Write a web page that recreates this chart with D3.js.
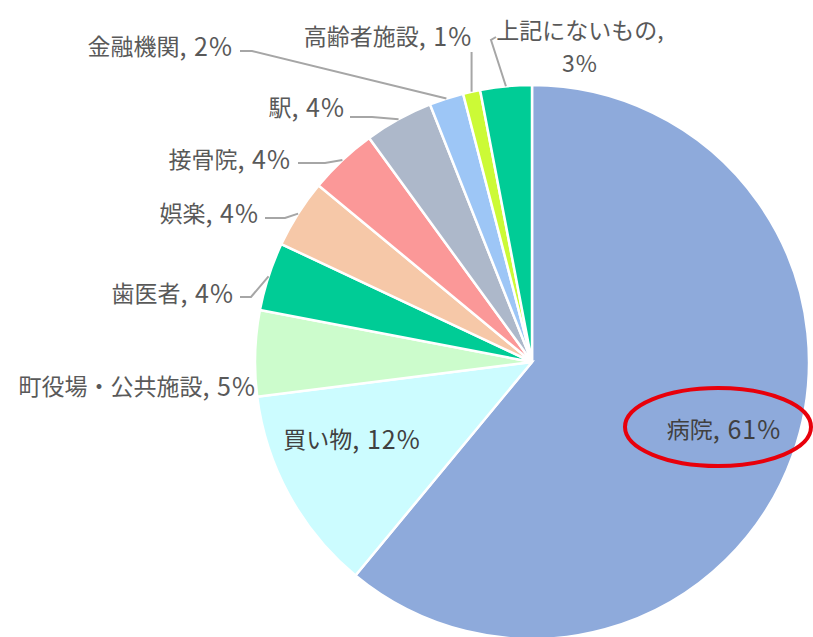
<!DOCTYPE html>
<html>
    <head>
        <meta charset="utf-8">
        <script src="https://d3js.org/d3.v7.min.js"></script>
        <title>pie</title>
        <style>
            body { margin: 0; background: #fff; }
            text { font-family: "Noto Sans CJK JP", "Noto Sans", sans-serif; }
        </style>
    </head>
    <body>
        <svg id="chart" width="813" height="637"></svg>
        <script>
            // data, clockwise from 12 o'clock
            const categories = ["病院", "買い物", "町役場・公共施設", "歯医者", "娯楽", "接骨院", "駅", "金融機関", "高齢者施設", "上記にないもの"];
            const values = [61, 12, 5, 4, 4, 4, 4, 2, 1, 3];
            const colors = ["#8eaadb", "#ccfcff", "#ccfccc", "#00cc96", "#f6c8a8", "#fb9898", "#adb8ca", "#9dc6f6", "#ccfa36", "#00cc96"];

            // where Excel had put each label (text anchor point) and its leader elbow
            const labelLayout = [
                {x: 724, y: 428, anchor: "middle", inside: true},
                {x: 352, y: 438, anchor: "middle", inside: true},
                {x: 256, y: 385, anchor: "end"},
                {x: 234, y: 292, anchor: "end", leader: [[251, 297], [240, 297]]},
                {x: 259, y: 212, anchor: "end", leader: [[285, 218], [265, 218]]},
                {x: 291, y: 158, anchor: "end", leader: [[325, 163], [298, 163]]},
                {x: 345, y: 106, anchor: "end", leader: [[372, 117], [350, 117]]},
                {x: 233, y: 45, anchor: "end", leader: [[252, 51], [240, 51]]},
                {x: 388, y: 35, anchor: "middle", leader: "up", top: 52},
                {x: 580, y: 29, anchor: "middle", leader: [[491, 40], [496, 37]], lines: 2, gap: 33}
            ];

            const svg = d3.select("#chart");
            const cx = 532, cy = 362, r = 277;
            const g = svg.append("g").attr("transform", `translate(${cx},${cy})`);

            const pie = d3.pie().sort(null).value(d => d.value);
            const arcs = pie(categories.map((c, i) => ({name: c, value: values[i], i: i})));
            const arc = d3.arc().innerRadius(0).outerRadius(r);
            const edge = d3.arc().innerRadius(r).outerRadius(r);

            g.selectAll("path.slice")
                .data(arcs)
                .join("path")
                .attr("class", "slice")
                .attr("d", arc)
                .attr("fill", d => colors[d.data.i])
                .attr("stroke", "#fff")
                .attr("stroke-width", 2.5);

            // leader lines
            const lineGen = d3.line();
            arcs.forEach(d => {
                const L = labelLayout[d.data.i];
                if (!L.leader) return;
                const p = edge.centroid(d);
                const start = [cx + p[0], cy + p[1]];
                let pts;
                if (L.leader === "up") {
                    pts = [start, [start[0], L.top]];
                } else {
                    pts = [start].concat(L.leader);
                }
                svg.append("path")
                    .attr("d", lineGen(pts))
                    .attr("fill", "none")
                    .attr("stroke", "#a6a6a6")
                    .attr("stroke-width", 2);
            });

            // labels: name in CJK, value part a bit bigger like Meiryo
            function addText(x, y, anchor, fill) {
                return svg.append("text")
                    .attr("x", x)
                    .attr("y", y)
                    .attr("text-anchor", anchor)
                    .attr("dominant-baseline", "central")
                    .attr("font-size", 23)
                    .attr("fill", fill);
            }
            arcs.forEach(d => {
                const L = labelLayout[d.data.i];
                const fill = L.inside ? "#404040" : "#595959";
                if (L.lines === 2) {
                    addText(L.x, L.y, L.anchor, fill).text(d.data.name + ",");
                    addText(L.x, L.y + L.gap, L.anchor, fill)
                        .attr("letter-spacing", 1).text(d.data.value + "%");
                } else {
                    const t = addText(L.x, L.y, L.anchor, fill);
                    t.append("tspan").text(d.data.name);
                    t.append("tspan").attr("font-size", 25).attr("letter-spacing", 1)
                        .text(`, ${d.data.value}%`);
                }
            });

            // red highlight around the hospital label
            svg.append("ellipse")
                .attr("cx", 718)
                .attr("cy", 427)
                .attr("rx", 93)
                .attr("ry", 39)
                .attr("fill", "none")
                .attr("stroke", "#e8000b")
                .attr("stroke-width", 4);
        </script>
    </body>
</html>
